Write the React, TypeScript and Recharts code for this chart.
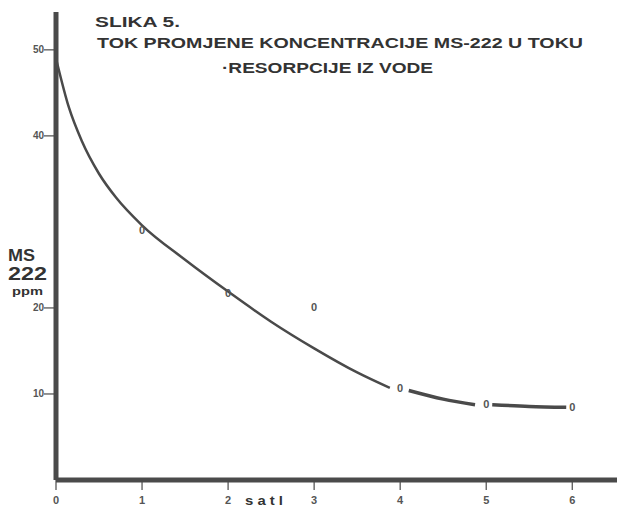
import React from "react";
import { ComposedChart, Line, Scatter, XAxis, YAxis, Customized } from "recharts";

// measured points (hours, ppm)
const measuredHours = [1, 2, 3, 4, 5, 6];
const measuredPpm = [29.1, 21.7, 20.1, 10.7, 8.8, 8.5];

// fitted curve, drawn in three pieces (broken around the markers)
const curveHours1 = [0, 0.15, 0.3, 0.5, 0.7, 1, 1.5, 2, 2.5, 3, 3.5, 3.88];
const curvePpm1 = [49, 43.3, 39.4, 35.6, 32.8, 29.6, 25.6, 21.9, 18.4, 15.3, 12.5, 10.7];
const curveHours2 = [4.1, 4.5, 4.87];
const curvePpm2 = [10.4, 9.4, 8.75];
const curveHours3 = [5.07, 5.5, 5.93];
const curvePpm3 = [8.75, 8.55, 8.45];

const xTicks = [0, 1, 2, 3, 4, 5, 6];
const xTickLabels = ["0", "1", "2", "3", "4", "5", "6"];
const yTicks = [10, 20, 40, 50];

const titleLine1 = "SLIKA 5.";
const titleLine2 = "TOK PROMJENE KONCENTRACIJE MS-222 U TOKU";
const titleLine3 = "·RESORPCIJE IZ VODE";
const yLabel = ["MS", "222", "ppm"];
const xLabel = "s a t l";

const zip = (h: number[], v: number[]) => h.map((t, i) => ({ t, v: v[i] }));
const seg1 = zip(curveHours1, curvePpm1);
const seg2 = zip(curveHours2, curvePpm2);
const seg3 = zip(curveHours3, curvePpm3);
const points = zip(measuredHours, measuredPpm);

const INK = "#4a4a4a";
const TEXT = "#333";
const FONT = "'Liberation Sans', Arial, sans-serif";

const YTick = (props: any) => {
  const { x, y, payload } = props;
  return (
    <g>
      <line x1={x - 4} x2={x + 8} y1={y} y2={y} stroke={INK} strokeWidth={1.2} />
      <text x={x - 4} y={y + 3.5} textAnchor="end" fontSize={10} fontWeight="bold" fill="#555" fontFamily={FONT}>
        {payload.value}
      </text>
    </g>
  );
};

const XTick = (props: any) => {
  const { x, y, payload } = props;
  const idx = xTicks.indexOf(payload.value);
  return (
    <g>
      <line x1={x} x2={x} y1={y - 8} y2={y + 2} stroke={INK} strokeWidth={1.2} />
      <text x={x} y={y + 16} textAnchor="middle" fontSize={11} fontWeight="bold" fill="#555" fontFamily={FONT}>
        {xTickLabels[idx]}
      </text>
    </g>
  );
};

const Marker = (props: any) => {
  const { cx, cy } = props;
  return (
    <text x={cx} y={cy + 4} textAnchor="middle" fontSize={11} fontWeight="bold" fill="#555" fontFamily={FONT}>
      0
    </text>
  );
};

const Labels = () => (
  <g fontFamily={FONT} fontWeight="bold" fill={TEXT}>
    <text x={95} y={27} fontSize={15} textLength={85} lengthAdjust="spacingAndGlyphs">{titleLine1}</text>
    <text x={97} y={48} fontSize={15} textLength={486} lengthAdjust="spacingAndGlyphs">{titleLine2}</text>
    <text x={222} y={73} fontSize={14} textLength={211} lengthAdjust="spacingAndGlyphs">{titleLine3}</text>
    <text x={8} y={261} fontSize={16} textLength={27} lengthAdjust="spacingAndGlyphs">{yLabel[0]}</text>
    <text x={8} y={280} fontSize={18} textLength={39} lengthAdjust="spacingAndGlyphs">{yLabel[1]}</text>
    <text x={12} y={295} fontSize={11} textLength={31} lengthAdjust="spacingAndGlyphs">{yLabel[2]}</text>
    <text x={245} y={505} fontSize={12} textLength={38} lengthAdjust="spacingAndGlyphs">{xLabel}</text>
  </g>
);

export default function App() {
  return (
    <div style={{ position: "absolute", left: 0, top: 0, background: "#fff" }}>
      <ComposedChart width={617} height={508} margin={{ top: 12, right: 0, bottom: 0, left: 0 }}>
        <XAxis
          type="number"
          dataKey="t"
          domain={[0, 6.52]}
          ticks={xTicks}
          allowDataOverflow
          height={28}
          axisLine={{ stroke: INK, strokeWidth: 5 }}
          tickLine={false}
          tick={<XTick />}
          interval={0}
        />
        <YAxis
          type="number"
          dataKey="v"
          domain={[0, 54.4]}
          ticks={yTicks}
          allowDataOverflow
          width={56}
          axisLine={{ stroke: INK, strokeWidth: 5 }}
          tickLine={false}
          tick={<YTick />}
          interval={0}
        />
        <Line data={seg1} dataKey="v" type="monotone" stroke={INK} strokeWidth={2.5} dot={false} isAnimationActive={false} />
        <Line data={seg2} dataKey="v" type="monotone" stroke={INK} strokeWidth={3.5} dot={false} isAnimationActive={false} />
        <Line data={seg3} dataKey="v" type="monotone" stroke={INK} strokeWidth={3.5} dot={false} isAnimationActive={false} />
        <Scatter data={points} dataKey="v" shape={<Marker />} isAnimationActive={false} />
        <Customized component={Labels} />
      </ComposedChart>
    </div>
  );
}
